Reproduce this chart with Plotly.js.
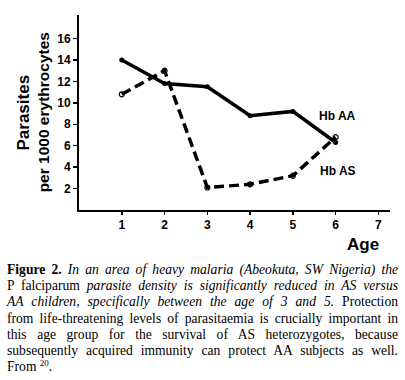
<!DOCTYPE html>
<html><head><meta charset="utf-8">
<script src="https://cdn.plot.ly/plotly-3.0.1.min.js"></script>
<style>
html,body{margin:0;padding:0;background:#fff;}
#wrap{position:relative;width:405px;height:380px;overflow:hidden;}
#chart{position:absolute;left:0;top:0;width:405px;height:380px;}
#cap{position:absolute;left:7px;top:262px;width:391px;font-family:"Liberation Serif","Times New Roman",serif;font-size:13.6px;line-height:16.2px;color:#000;}
#cap span.l{display:block;text-align:justify;text-align-last:justify;white-space:nowrap;}
#cap span.last{display:block;text-align:left;}
#cap sup{font-size:9px;line-height:0;vertical-align:5px;}
</style></head>
<body><div id="wrap"><div id="chart"></div>
<div id="cap">
<span class="l"><b>Figure 2.</b> <i>In an area of heavy malaria (Abeokuta, SW Nigeria) the</i></span>
<span class="l">P falciparum <i>parasite density is significantly reduced in AS versus</i></span>
<span class="l"><i>AA children, specifically between the age of 3 and 5.</i> Protection</span>
<span class="l">from life-threatening levels of parasitaemia is crucially important in</span>
<span class="l">this age group for the survival of AS heterozygotes, because</span>
<span class="l">subsequently acquired immunity can protect AA subjects as well.</span>
<span class="last">From <sup>20</sup>.</span>
</div></div>
<script>
const ages = [1, 2, 3, 4, 5, 6];
const hbAA = [14.0, 11.8, 11.5, 8.8, 9.2, 6.3];
const hbAS = [10.8, 13.0, 2.1, 2.4, 3.2, 6.8];
const xTicks = [1, 2, 3, 4, 5, 6, 7];
const yTicks = [2, 4, 6, 8, 10, 12, 14, 16];

const tickFont = {family: "Liberation Sans, Arial, sans-serif", size: 12, color: "#000", weight: "bold"};
const traces = [
  {x: ages, y: hbAA, mode: "lines+markers", name: "Hb AA",
   line: {color: "#000", width: 3.5},
   marker: {symbol: "circle", size: 5, color: "#000"}},
  {x: ages, y: hbAS, mode: "lines+markers", name: "Hb AS",
   line: {color: "#000", width: 3.5, dash: "10px,5px"},
   marker: {symbol: "circle-open", size: 5, color: "#000", line: {width: 1.2, color: "#000"}}}
];
const layout = {
  width: 405, height: 380,
  margin: {l: 79, r: 15, t: 15, b: 169.5},
  paper_bgcolor: "#fff", plot_bgcolor: "#fff",
  showlegend: false,
  xaxis: {range: [0, 7.27], tickvals: xTicks, ticktext: xTicks.map(String),
    showline: true, linecolor: "#000", linewidth: 2, showgrid: false, zeroline: false,
    ticks: "outside", ticklen: 3, tickwidth: 1.5, tickcolor: "#000", tickfont: tickFont},
  yaxis: {range: [0, 18.2], tickvals: yTicks, ticktext: yTicks.map(String),
    showline: true, linecolor: "#000", linewidth: 2, showgrid: false, zeroline: false,
    ticks: "outside", ticklen: 4, tickwidth: 1.5, tickcolor: "#000", tickfont: tickFont},
  annotations: [
    {text: "<b>Parasites</b>", xref: "paper", yref: "paper", x: -0.18, y: 0.5, xanchor: "center", yanchor: "middle",
     textangle: -90, showarrow: false, font: {family: "Liberation Sans, Arial, sans-serif", size: 17, color: "#000"}},
    {text: "<b>per 1000 erythrocytes</b>", xref: "paper", yref: "paper", x: -0.113, y: 0.5, xanchor: "center", yanchor: "middle",
     textangle: -90, showarrow: false, font: {family: "Liberation Sans, Arial, sans-serif", size: 15.5, color: "#000"}},
    {text: "<b>Hb AA</b>", xref: "x", yref: "y", x: 6.05, y: 8.8, xanchor: "center", yanchor: "middle",
     showarrow: false, font: {family: "Liberation Sans, Arial, sans-serif", size: 12, color: "#000"}},
    {text: "<b>Hb AS</b>", xref: "x", yref: "y", x: 6.05, y: 3.6, xanchor: "center", yanchor: "middle",
     showarrow: false, font: {family: "Liberation Sans, Arial, sans-serif", size: 12, color: "#000"}},
    {text: "<b>Age</b>", xref: "x", yref: "paper", x: 6.64, y: -0.175, xanchor: "center", yanchor: "middle",
     showarrow: false, font: {family: "Liberation Sans, Arial, sans-serif", size: 17, color: "#000"}}
  ]
};
Plotly.newPlot("chart", traces, layout, {displayModeBar: false, staticPlot: true});
</script></body></html>
